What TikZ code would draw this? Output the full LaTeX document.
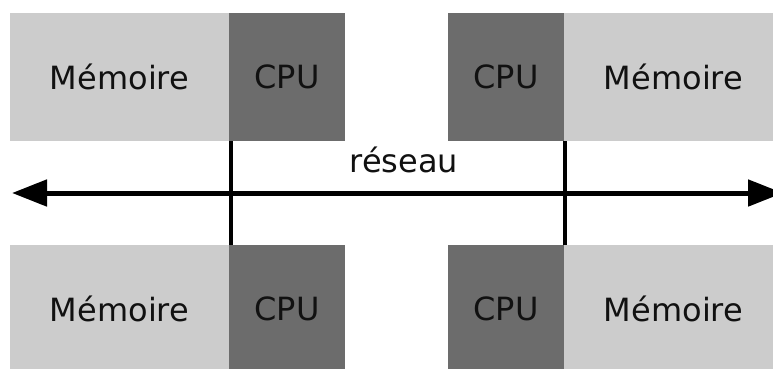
\documentclass[tikz,border=0pt]{standalone}
\usepackage{fontspec}
\setmainfont{DejaVu Sans}
\usetikzlibrary{arrows.meta}
\definecolor{memgray}{HTML}{CCCCCC}
\definecolor{cpugray}{HTML}{6C6C6C}
\definecolor{inkc}{HTML}{111111}
\begin{document}
\begin{tikzpicture}[x=1pt,y=-1pt,
  box/.style={inner sep=0pt, outer sep=0pt, anchor=north west, minimum height=128pt, text=inkc,
    font=\fontsize{32}{40}\selectfont},
  membox/.style={box, fill=memgray},
  cpubox/.style={box, fill=cpugray},
  link/.style={line width=4pt, black},
  net/.style={line width=5pt, black, {Triangle[length=35pt,width=26pt]}-{Triangle[length=35pt,width=26pt]}}
]
\clip (0,0) rectangle (773,368);
\fill[white] (0,0) rectangle (773,368);
% top row
\node[membox, minimum width=219pt] (m1) at (10,13) {Mémoire};
\node[cpubox, minimum width=116pt] (c1) at (229,13) {CPU};
\node[cpubox, minimum width=116pt] (c2) at (448,13) {CPU};
\node[membox, minimum width=219pt] (m2) at (564,13) {Mémoire};
% bottom row
\node[membox, minimum width=219pt] (m3) at (10,245) {Mémoire};
\node[cpubox, minimum width=116pt] (c3) at (229,245) {CPU};
\node[cpubox, minimum width=116pt] (c4) at (448,245) {CPU};
\node[membox, minimum width=219pt] (m4) at (564,245) {Mémoire};
% links
\draw[link] ([xshift=2pt]c1.south west) -- ([xshift=2pt]c3.north west);
\draw[link] ([xshift=0.5pt]m2.south west) -- ([xshift=0.5pt]m4.north west);
% network
\coordinate (L) at (12,193);
\coordinate (R) at (783,193);
\draw[net] (L) -- (R);
\node[text=inkc, font=\fontsize{32}{40}\selectfont, anchor=base] (lbl) at (404,172) {réseau};
\end{tikzpicture}
\end{document}
